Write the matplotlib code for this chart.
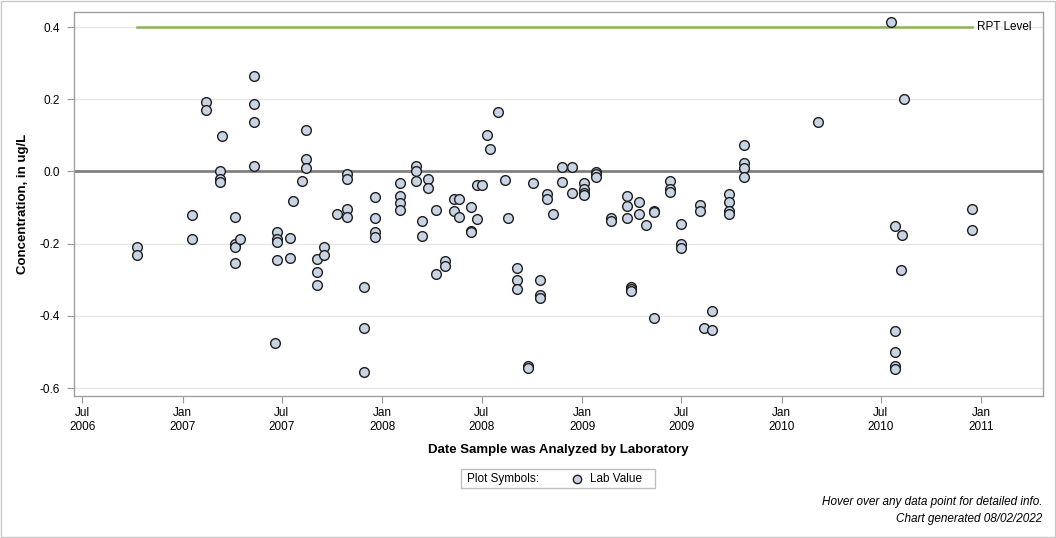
import matplotlib
matplotlib.use("Agg")
import matplotlib.pyplot as plt
import matplotlib.dates as mdates
from matplotlib.lines import Line2D
import matplotlib.patches as patches
import numpy as np

plt.rcParams['font.family'] = ['Liberation Sans', 'DejaVu Sans']

# sample dates and lab values (ug/L)
dates = [
    "2006-10-10", "2006-10-10",
    "2007-01-17", "2007-01-17",
    "2007-02-13", "2007-02-13",
    "2007-03-11", "2007-03-11", "2007-03-11", "2007-03-14",
    "2007-04-07", "2007-04-07", "2007-04-07", "2007-04-07", "2007-04-16",
    "2007-05-12", "2007-05-12", "2007-05-12", "2007-05-12",
    "2007-06-19", "2007-06-23", "2007-06-23", "2007-06-23", "2007-06-23",
    "2007-07-17", "2007-07-17", "2007-07-22",
    "2007-08-08", "2007-08-15", "2007-08-15", "2007-08-15",
    "2007-09-04", "2007-09-04", "2007-09-04", "2007-09-17", "2007-09-17",
    "2007-10-11", "2007-10-29", "2007-10-29", "2007-10-29", "2007-10-29",
    "2007-11-29", "2007-11-29", "2007-11-29",
    "2007-12-19", "2007-12-19", "2007-12-19", "2007-12-19",
    "2008-02-03", "2008-02-03", "2008-02-03", "2008-02-03",
    "2008-03-02", "2008-03-02", "2008-03-02",
    "2008-03-13", "2008-03-13", "2008-03-24", "2008-03-24",
    "2008-04-09", "2008-04-09", "2008-04-24", "2008-04-24",
    "2008-05-12", "2008-05-12", "2008-05-21", "2008-05-21",
    "2008-06-12", "2008-06-12", "2008-06-12", "2008-06-22", "2008-06-23",
    "2008-07-01", "2008-07-10", "2008-07-17", "2008-07-30",
    "2008-08-12", "2008-08-19",
    "2008-09-04", "2008-09-04", "2008-09-04", "2008-09-23", "2008-09-23",
    "2008-10-02", "2008-10-15", "2008-10-15", "2008-10-15",
    "2008-10-28", "2008-10-28", "2008-11-08",
    "2008-11-24", "2008-11-24", "2008-12-14", "2008-12-14",
    "2009-01-05", "2009-01-05", "2009-01-05", "2009-01-05",
    "2009-01-27", "2009-01-27", "2009-01-27",
    "2009-02-23", "2009-02-23",
    "2009-03-23", "2009-03-23", "2009-03-23",
    "2009-04-01", "2009-04-01", "2009-04-01",
    "2009-04-14", "2009-04-14", "2009-04-27",
    "2009-05-13", "2009-05-13", "2009-05-13",
    "2009-06-10", "2009-06-10", "2009-06-10",
    "2009-06-30", "2009-06-30", "2009-06-30",
    "2009-08-05", "2009-08-05", "2009-08-12",
    "2009-08-27", "2009-08-27",
    "2009-09-26", "2009-09-26", "2009-09-26", "2009-09-26",
    "2009-10-23", "2009-10-23", "2009-10-23", "2009-10-23",
    "2010-03-09",
    "2010-07-20", "2010-07-27", "2010-07-27", "2010-07-27", "2010-07-27", "2010-07-27",
    "2010-08-08", "2010-08-09", "2010-08-13",
    "2010-12-15", "2010-12-15",
]
values = [
    -0.210, -0.231,
    -0.120, -0.186,
    0.193, 0.171,
    0.002, -0.020, -0.028, 0.099,
    -0.126, -0.201, -0.209, -0.253, -0.186,
    0.265, 0.188, 0.138, 0.016,
    -0.475, -0.167, -0.186, -0.195, -0.245,
    -0.184, -0.239, -0.081,
    -0.026, 0.116, 0.035, 0.010,
    -0.242, -0.278, -0.314, -0.209, -0.231,
    -0.117, -0.006, -0.020, -0.103, -0.125,
    -0.319, -0.433, -0.555,
    -0.070, -0.128, -0.167, -0.181,
    -0.031, -0.067, -0.087, -0.106,
    0.016, 0.002, -0.026,
    -0.137, -0.178, -0.020, -0.045,
    -0.106, -0.283, -0.247, -0.261,
    -0.076, -0.109, -0.076, -0.125,
    -0.098, -0.164, -0.167, -0.037, -0.131,
    -0.037, 0.102, 0.063, 0.165,
    -0.023, -0.128,
    -0.267, -0.300, -0.325, -0.538, -0.544,
    -0.031, -0.300, -0.342, -0.350,
    -0.062, -0.075, -0.117,
    0.013, -0.029, 0.013, -0.059,
    -0.031, -0.048, -0.059, -0.066,
    -0.002, -0.007, -0.015,
    -0.128, -0.137,
    -0.067, -0.095, -0.128,
    -0.319, -0.326, -0.332,
    -0.084, -0.117, -0.148,
    -0.109, -0.112, -0.405,
    -0.026, -0.048, -0.056,
    -0.145, -0.200, -0.211,
    -0.092, -0.109, -0.433,
    -0.386, -0.438,
    -0.062, -0.084, -0.109, -0.117,
    0.074, 0.024, 0.009, -0.015,
    0.138,
    0.415, -0.151, -0.443, -0.500, -0.540, -0.547,
    -0.272, -0.175, 0.200,
    -0.103, -0.163,
]
rpt_level = 0.4

x = np.array(dates, dtype='datetime64[D]')
y = np.array(values)

fig = plt.figure(figsize=(10.56, 5.38), dpi=100)
ax = fig.add_axes([74/1056, 1-396/538, (1043-74)/1056, (396-12)/538])

grid_c = '#e6e6e6'
for yv in [0.4, 0.2, -0.2, -0.4, -0.6]:
    ax.axhline(yv, color=grid_c, lw=1, zorder=0)
ax.axhline(0.0, color='#808080', lw=2, zorder=1)

# RPT level across the sampled period
ax.plot([x.min(), x.max()], [rpt_level, rpt_level], color='#8fb15c', lw=1.8, zorder=2)
ax.text(x.max() + np.timedelta64(10, 'D'), rpt_level, 'RPT Level', va='center', ha='left',
        fontsize=8.5, color='black')

ax.plot(x, y, linestyle='none', marker='o', ms=7.0, mfc='#c8d4e4', mec='#1e1e1e',
        mew=1.0, zorder=3)

ax.set_xlim(np.datetime64('2006-06-16'), np.datetime64('2011-04-24'))
ax.set_ylim(-0.622, 0.4416)

ax.xaxis.set_major_locator(mdates.MonthLocator(bymonth=[1, 7]))
ax.xaxis.set_major_formatter(mdates.DateFormatter('%b\n%Y'))
ax.set_yticks([-0.6, -0.4, -0.2, 0.0, 0.2, 0.4])
ax.set_yticklabels(['-0.6', '-0.4', '-0.2', '0.0', '0.2', '0.4'])
ax.tick_params(axis='both', labelsize=8.5, labelcolor='black', length=5, width=0.8,
               color='#999999')
ax.tick_params(axis='y', pad=5)
ax.tick_params(axis='x', pad=3)
for s in ax.spines.values():
    s.set_color('#a0a0a0')
    s.set_linewidth(1)

ax.set_xlabel('Date Sample was Analyzed by Laboratory', fontsize=9.5, fontweight='bold',
              labelpad=8)
ax.set_ylabel('Concentration, in ug/L', fontsize=9.5, fontweight='bold', labelpad=8)

# legend box below the chart
fig.add_artist(patches.Rectangle((461/1056, 1-488/538), 194/1056, 19/538,
                                 transform=fig.transFigure, fill=False,
                                 edgecolor='#c0c0c0', lw=1))
fig.text(467/1056, 1-479/538, 'Plot Symbols:', fontsize=8.5, va='center', ha='left',
         color='black')
fig.add_artist(Line2D([577/1056], [1-479/538], transform=fig.transFigure, marker='o',
                      ms=6.0, mfc='#c8d4e4', mec='#1e1e1e', mew=1.0, linestyle='none'))
fig.text(590/1056, 1-479/538, 'Lab Value', fontsize=8.5, va='center', ha='left',
         color='black')

fig.text(1042/1056, 1-502/538, 'Hover over any data point for detailed info.',
         fontsize=8.5, style='italic', ha='right', va='center', color='black')
fig.text(1042/1056, 1-519/538, 'Chart generated 08/02/2022',
         fontsize=8.5, style='italic', ha='right', va='center', color='black')

# outer frame
fig.add_artist(patches.Rectangle((0.0005, 0.001), 0.999, 0.998, transform=fig.transFigure,
                                 fill=False, edgecolor='#c8c8c8', lw=1))

fig.savefig('out.png', dpi=100, facecolor='white')
